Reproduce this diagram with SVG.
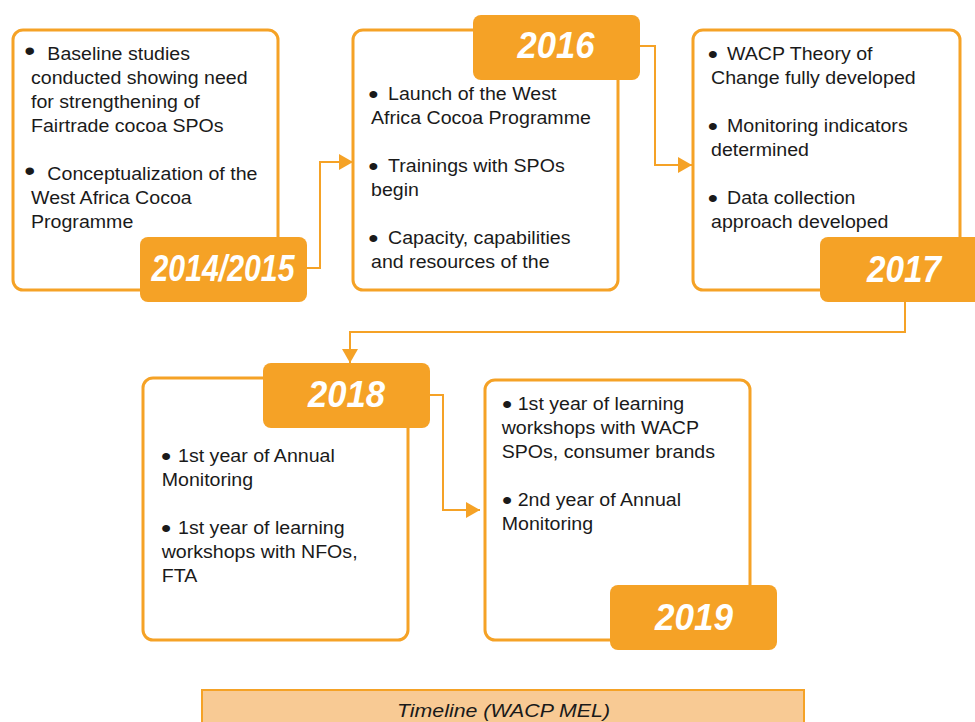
<svg xmlns="http://www.w3.org/2000/svg" width="975" height="722" viewBox="0 0 975 722">
<style>
.box{fill:#fff;stroke:#F5A226;stroke-width:3}
.lab{fill:#F5A226}
.yr{font-family:"Liberation Sans",Arial,sans-serif;font-weight:bold;font-style:italic;font-size:37px;fill:#fff;text-anchor:middle}
.t{font-family:"Liberation Sans",Arial,sans-serif;font-size:17.5px;fill:#1a1a1a}
.bu{font-family:"Liberation Sans",Arial,sans-serif;font-size:26px;fill:#1a1a1a}
.b1{font-family:"Liberation Sans",Arial,sans-serif;font-size:28px;fill:#1a1a1a}
.con{fill:none;stroke:#F5A226;stroke-width:2}
.cap{fill:#F8CA94;stroke:#F5A226;stroke-width:2}
.capt{font-family:"Liberation Sans",Arial,sans-serif;font-style:italic;font-size:18.5px;fill:#1a1a1a;text-anchor:middle}
</style>
<defs>
<marker id="ah" markerUnits="userSpaceOnUse" markerWidth="14" markerHeight="16" refX="14" refY="8" orient="auto" viewBox="0 0 14 16">
<path d="M0,0 L14,8 L0,16 z" fill="#F5A226"/>
</marker>
</defs>
<g id="connectors">
<path class="con" d="M307,268 H320 V162 H353" marker-end="url(#ah)"/>
<path class="con" d="M640,46 H655 V165 H692" marker-end="url(#ah)"/>
<path class="con" d="M905,302 V332 H350 V363" marker-end="url(#ah)"/>
<path class="con" d="M430,395 H443 V510 H480" marker-end="url(#ah)"/>
</g>
<g id="n2014">
<rect class="box" x="13" y="30" width="265" height="260" rx="10"/>
<g transform="translate(31 0) scale(1.12 1)">
<text class="b1" x="-6.1" y="60">•</text>
<text class="t" x="14.6" y="60">Baseline studies</text>
<text class="t" x="0" y="84">conducted showing need</text>
<text class="t" x="0" y="108">for strengthening of</text>
<text class="t" x="0" y="132">Fairtrade cocoa SPOs</text>
<text class="b1" x="-6.1" y="180">•</text>
<text class="t" x="14.6" y="180">Conceptualization of the</text>
<text class="t" x="0" y="204">West Africa Cocoa</text>
<text class="t" x="0" y="228">Programme</text>
</g>
<rect class="lab" x="140" y="237" width="167" height="65" rx="8"/>
<text class="yr" x="223" y="281" textLength="143" lengthAdjust="spacingAndGlyphs">2014/2015</text>
</g>
<g id="n2016">
<rect class="box" x="353" y="30" width="265" height="260" rx="10"/>
<g transform="translate(371 0) scale(1.12 1)">
<text class="bu" x="-2.5" y="103.5">•</text>
<text class="t" x="15.2" y="100">Launch of the West</text>
<text class="t" x="0" y="124">Africa Cocoa Programme</text>
<text class="bu" x="-2.5" y="175.5">•</text>
<text class="t" x="15.2" y="172">Trainings with SPOs</text>
<text class="t" x="0" y="196">begin</text>
<text class="bu" x="-2.5" y="247.5">•</text>
<text class="t" x="15.2" y="244">Capacity, capabilities</text>
<text class="t" x="0" y="268">and resources of the</text>
</g>
<rect class="lab" x="473" y="15" width="167" height="65" rx="8"/>
<text class="yr" x="556" y="58" textLength="77" lengthAdjust="spacingAndGlyphs">2016</text>
</g>
<g id="n2017">
<rect class="box" x="693" y="30" width="267" height="260" rx="10"/>
<g transform="translate(711 0) scale(1.12 1)">
<text class="bu" x="-3" y="63.5">•</text>
<text class="t" x="14.3" y="60">WACP Theory of</text>
<text class="t" x="0" y="84">Change fully developed</text>
<text class="bu" x="-3" y="135.5">•</text>
<text class="t" x="14.3" y="132">Monitoring indicators</text>
<text class="t" x="0" y="156">determined</text>
<text class="bu" x="-3" y="207.5">•</text>
<text class="t" x="14.3" y="204">Data collection</text>
<text class="t" x="0" y="228">approach developed</text>
</g>
<rect class="lab" x="820" y="237" width="167" height="65" rx="8"/>
<text class="yr" x="904" y="282" textLength="74" lengthAdjust="spacingAndGlyphs">2017</text>
</g>
<g id="n2018">
<rect class="box" x="143" y="378" width="265" height="262" rx="10"/>
<g transform="translate(161.7 0) scale(1.12 1)">
<text class="bu" x="-0.7" y="465.5">•</text>
<text class="t" x="14.6" y="462">1st year of Annual</text>
<text class="t" x="0" y="486">Monitoring</text>
<text class="bu" x="-0.7" y="537.5">•</text>
<text class="t" x="14.6" y="534">1st year of learning</text>
<text class="t" x="0" y="558">workshops with NFOs,</text>
<text class="t" x="0" y="582">FTA</text>
</g>
<rect class="lab" x="263" y="363" width="167" height="65" rx="8"/>
<text class="yr" x="346.5" y="407" textLength="77" lengthAdjust="spacingAndGlyphs">2018</text>
</g>
<g id="n2019">
<rect class="box" x="485" y="380" width="265" height="260" rx="10"/>
<g transform="translate(501.7 0) scale(1.12 1)">
<text class="bu" x="0.2" y="413.5">•</text>
<text class="t" x="14.3" y="410">1st year of learning</text>
<text class="t" x="0" y="434">workshops with WACP</text>
<text class="t" x="0" y="458">SPOs, consumer brands</text>
<text class="bu" x="0.2" y="509.5">•</text>
<text class="t" x="14.3" y="506">2nd year of Annual</text>
<text class="t" x="0" y="530">Monitoring</text>
</g>
<rect class="lab" x="610" y="585" width="167" height="65" rx="8"/>
<text class="yr" x="694" y="630" textLength="78" lengthAdjust="spacingAndGlyphs">2019</text>
</g>
<g id="caption">
<rect class="cap" x="202" y="690" width="602" height="45"/>
<text class="capt" x="503.5" y="717" textLength="213" lengthAdjust="spacingAndGlyphs">Timeline (WACP MEL)</text>
</g>
</svg>
